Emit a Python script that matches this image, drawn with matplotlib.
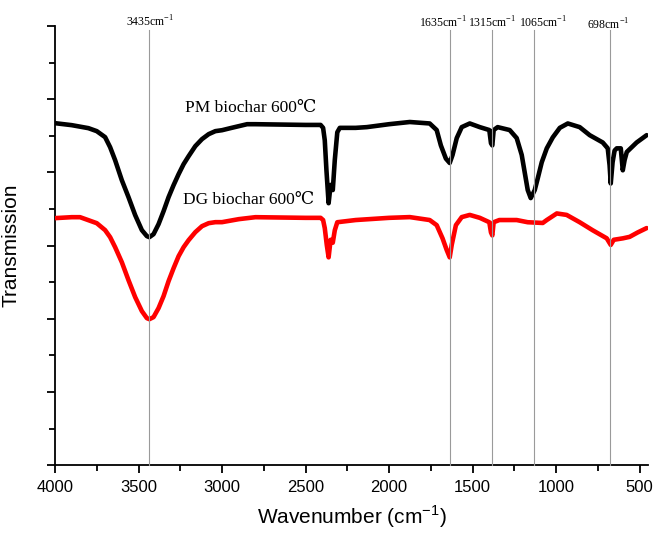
import matplotlib
matplotlib.use("Agg")
import matplotlib.pyplot as plt
from matplotlib.ticker import MultipleLocator, NullFormatter

# PM biochar 600℃ (black)
pm_wn = [4000, 3900, 3800, 3750, 3700, 3670, 3640, 3600, 3560, 3520, 3480, 3450, 3435, 3410,
         3380, 3350, 3320, 3290, 3260, 3230, 3200, 3160, 3120, 3080, 3040, 3000, 2950, 2900,
         2850, 2800, 2500, 2410, 2395, 2385, 2375, 2362, 2350, 2337, 2325, 2310, 2295, 2200,
         2133, 2000, 1876, 1757, 1715, 1690, 1660, 1637, 1620, 1595, 1565, 1517, 1457, 1400,
         1390, 1382, 1374, 1350, 1278, 1236, 1206, 1188, 1170, 1152, 1128, 1110, 1086, 1056,
         1020, 978, 930, 859, 799, 721, 691, 680, 673, 662, 650, 637, 613, 601, 590, 577,
         518, 458]
pm_t = [4.674, 4.647, 4.606, 4.565, 4.483, 4.346, 4.168, 3.895, 3.663, 3.417, 3.212, 3.130,
        3.116, 3.157, 3.294, 3.471, 3.663, 3.827, 3.977, 4.114, 4.223, 4.360, 4.456, 4.524,
        4.565, 4.578, 4.606, 4.633, 4.660, 4.660, 4.65, 4.65, 4.61, 4.44, 4.03, 3.58, 3.83,
        3.76, 4.17, 4.55, 4.61, 4.61, 4.62, 4.66, 4.69, 4.67, 4.58, 4.37, 4.19, 4.13, 4.24,
        4.47, 4.62, 4.67, 4.62, 4.58, 4.40, 4.37, 4.58, 4.62, 4.58, 4.47, 4.24, 4.00, 3.76,
        3.65, 3.76, 3.92, 4.14, 4.33, 4.48, 4.61, 4.67, 4.62, 4.51, 4.41, 4.33, 4.10, 3.85,
        4.14, 4.30, 4.33, 4.33, 4.03, 4.17, 4.28, 4.41, 4.51]

# DG biochar 600℃ (red)
dg_wn = [4000, 3900, 3850, 3800, 3750, 3700, 3670, 3640, 3600, 3560, 3520, 3480, 3450, 3435,
         3410, 3380, 3350, 3320, 3290, 3260, 3230, 3200, 3160, 3120, 3080, 3040, 3000, 2900,
         2800, 2500, 2410, 2395, 2385, 2373, 2362, 2350, 2337, 2325, 2310, 2200, 2000, 1876,
         1757, 1715, 1680, 1655, 1637, 1625, 1600, 1565, 1517, 1457, 1400, 1390, 1382, 1374,
         1340, 1236, 1170, 1080, 1056, 996, 937, 859, 781, 697, 673, 655, 600, 560, 512, 458]
dg_t = [3.376, 3.389, 3.389, 3.348, 3.307, 3.212, 3.116, 2.979, 2.774, 2.528, 2.296, 2.105,
        2.009, 1.995, 2.023, 2.146, 2.310, 2.515, 2.692, 2.856, 2.979, 3.075, 3.184, 3.266,
        3.307, 3.321, 3.321, 3.362, 3.389, 3.38, 3.38, 3.35, 3.24, 3.01, 2.84, 3.08, 3.04,
        3.21, 3.32, 3.35, 3.38, 3.39, 3.35, 3.28, 3.10, 2.94, 2.84, 3.01, 3.28, 3.39, 3.42,
        3.38, 3.32, 3.18, 3.14, 3.32, 3.35, 3.35, 3.32, 3.31, 3.35, 3.44, 3.42, 3.32, 3.21,
        3.10, 3.01, 3.08, 3.10, 3.12, 3.18, 3.24]

# Reference lines: label text, label x, line x, label y
peak_labels = ["3435", "1635", "1315", "1065", "698"]
peak_label_x = [3432, 1679, 1385, 1080, 691]
peak_line_x = [3435, 1635, 1385, 1135, 678]
peak_label_y = [6.06, 6.05, 6.05, 6.05, 6.02]

fig = plt.figure(figsize=(6.57, 5.34), dpi=100)
ax = fig.add_axes([0.0837, 0.129, 0.9026, 0.822])

ax.plot(pm_wn, pm_t, color="black", lw=3.3, solid_joinstyle="round",
        solid_capstyle="round", zorder=3)
ax.plot(dg_wn, dg_t, color="#ff0000", lw=3.3, solid_joinstyle="round",
        solid_capstyle="round", zorder=3)

for xl, yl, xv, lab in zip(peak_label_x, peak_label_y, peak_line_x, peak_labels):
    ax.plot([xv, xv], [0, 5.95], color="#9a9a9a", lw=0.8, zorder=4, clip_on=False)
    ax.text(xl, yl, lab + r"cm$^{\mathregular{-1}}$", ha="center", va="center",
            fontsize=8.5, family=["Liberation Serif", "DejaVu Serif"], clip_on=False)

ax.text(3222, 4.88, "PM biochar 600℃", ha="left", va="center", fontsize=12.5,
        family=["Liberation Serif", "DejaVu Serif", "Noto Sans CJK SC"])
ax.text(3232, 3.62, "DG biochar 600℃", ha="left", va="center", fontsize=12.5,
        family=["Liberation Serif", "DejaVu Serif", "Noto Sans CJK SC"])

ax.set_xlim(4000, 450)
ax.set_ylim(0, 6)
ax.xaxis.set_major_locator(MultipleLocator(500))
ax.xaxis.set_minor_locator(MultipleLocator(250))
ax.yaxis.set_major_locator(MultipleLocator(1))
ax.yaxis.set_minor_locator(MultipleLocator(0.5))
ax.yaxis.set_major_formatter(NullFormatter())

for s in ["top", "right"]:
    ax.spines[s].set_visible(False)
for s in ["left", "bottom"]:
    ax.spines[s].set_linewidth(1.3)

ax.tick_params(which="major", direction="out", length=6, width=1.3, pad=5,
               labelsize=12, labelfontfamily="Liberation Sans")
ax.tick_params(which="minor", direction="out", length=4, width=1.3)

ax.set_xlabel(r"Wavenumber (cm$^{\mathregular{-1}}$)", fontsize=15,
              family="Liberation Sans", labelpad=6)
ax.set_ylabel("Transmission", fontsize=15, family="Liberation Sans", labelpad=14)

fig.savefig("out.png", dpi=100)
